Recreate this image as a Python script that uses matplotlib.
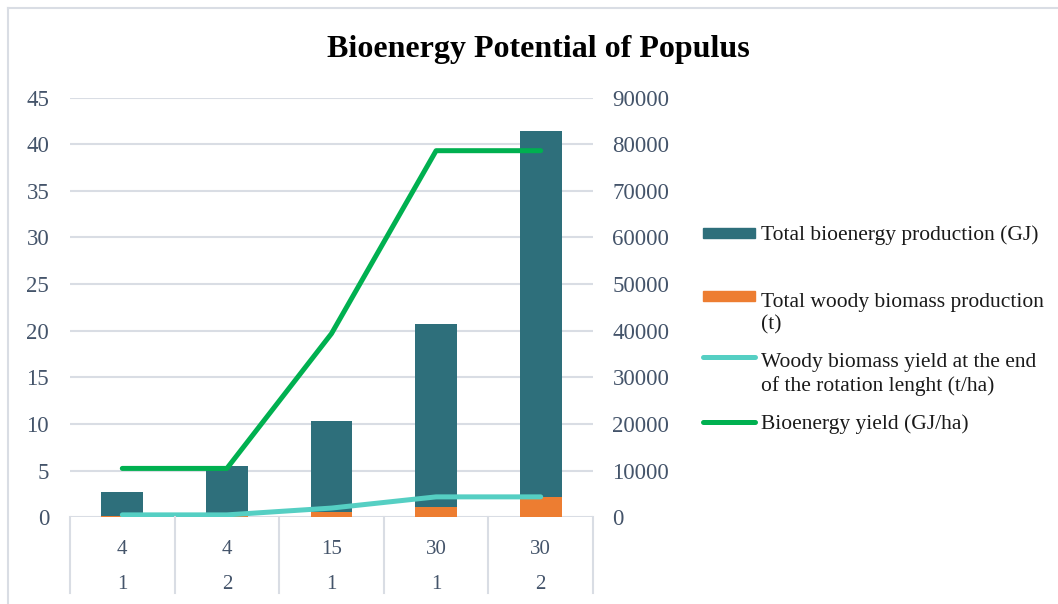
import matplotlib
matplotlib.use("Agg")
import matplotlib.pyplot as plt
from matplotlib.lines import Line2D
from matplotlib.patches import Rectangle
import matplotlib.transforms as mtransforms
import numpy as np

# ---- data ----
rotation_length = ["4", "4", "15", "30", "30"]
rotation_count = ["1", "2", "1", "1", "2"]
bioenergy_production_gj = [5200, 10400, 19500, 39200, 78400]   # right axis (stack top part)
woody_biomass_production_t = [290, 590, 1100, 2170, 4380]     # right axis (stack bottom)
woody_biomass_yield = [0.27, 0.27, 1.0, 2.2, 2.2]              # left axis
bioenergy_yield = [5.25, 5.25, 19.7, 39.3, 39.3]                # left axis
left_ticks = list(range(0, 46, 5))
right_ticks = list(range(0, 90001, 10000))

labels = ["Total bioenergy production (GJ)",
          "Total woody biomass production\n(t)",
          "Woody biomass yield at the end\nof the rotation lenght (t/ha)",
          "Bioenergy yield (GJ/ha)"]

c_teal = "#2e6f7b"
c_orange = "#ed7d31"
c_cyan = "#55cfc3"
c_green = "#00b050"
c_grid = "#d9dde4"
c_tick = "#44546a"

plt.rcParams['font.family'] = ['Liberation Serif', 'DejaVu Serif']

W, H = 1058, 604
fig = plt.figure(figsize=(W / 100, H / 100), dpi=100)

def fx(px):
    return px / W

def fy(py):
    return 1 - py / H

ax = fig.add_axes([fx(70), fy(517.4), fx(593 - 70), (517.4 - 97.5) / H])
ax2 = ax.twinx()
ax.set_zorder(2)
ax2.set_zorder(1)
ax.patch.set_visible(False)

x = np.arange(len(rotation_length))
bw = 0.4
ax2.bar(x, woody_biomass_production_t, width=bw, color=c_orange, zorder=3)
ax2.bar(x, bioenergy_production_gj, width=bw, bottom=woody_biomass_production_t,
        color=c_teal, zorder=3)

ax.plot(x, woody_biomass_yield, color=c_cyan, lw=3.6,
        solid_capstyle='round', solid_joinstyle='round')
ax.plot(x, bioenergy_yield, color=c_green, lw=3.6,
        solid_capstyle='round', solid_joinstyle='round')

ax.set_xlim(-0.5, len(x) - 0.5)
ax.set_ylim(0, 45)
ax2.set_ylim(0, 90000)
ax.set_yticks(left_ticks)
ax2.set_yticks(right_ticks)
ax.set_xticks([])
ax2.yaxis.grid(True, color=c_grid, lw=1.5, zorder=0)
ax2.set_axisbelow(True)

for a in (ax, ax2):
    for s in a.spines.values():
        s.set_visible(False)
ax.tick_params(axis='y', length=0, pad=15, labelsize=16.5, labelcolor=c_tick)
ax2.tick_params(axis='y', length=0, pad=14, labelsize=16.5, labelcolor=c_tick)

# multi-level category axis
trans = mtransforms.blended_transform_factory(ax.transData, ax.transAxes)
for i, (a, b) in enumerate(zip(rotation_length, rotation_count)):
    ax.text(i, -0.076, a, transform=trans, ha='center', va='center',
            fontsize=15, color=c_tick, clip_on=False)
    ax.text(i, -0.160, b, transform=trans, ha='center', va='center',
            fontsize=15, color=c_tick, clip_on=False)
for xd in np.arange(-0.5, len(x), 1.0):
    ax.add_line(Line2D([xd, xd], [0, -0.18], transform=trans, color=c_grid,
                       lw=1.5, clip_on=False))

# title
fig.text(fx(538), fy(57), "Bioenergy Potential of Populus", ha='center',
         va='baseline', fontsize=23, fontweight='bold', color='black')

# legend (manual, Excel-style)
first_line_y = [233, 296, 357, 422]
handle_x0, handle_x1 = 703, 755
text_x = 761
line_px = 26.7
kinds = [('bar', c_teal), ('bar', c_orange), ('line', c_cyan), ('line', c_green)]
for (kind, col), lab, yy in zip(kinds, labels, first_line_y):
    if kind == 'bar':
        fig.add_artist(Rectangle((fx(handle_x0), fy(yy + 5)), fx(handle_x1 - handle_x0),
                                 10 / H, color=col, transform=fig.transFigure))
    else:
        fig.add_artist(Line2D([fx(handle_x0), fx(handle_x1)], [fy(yy), fy(yy)],
                              color=col, lw=3.6, solid_capstyle='round',
                              transform=fig.transFigure))
    nlines = lab.count("\n") + 1
    fig.text(fx(text_x), fy(yy + 7 + line_px * (nlines - 1)), lab, ha='left',
             va='baseline', fontsize=15.5, color='#1a1a1a', linespacing=1.24)

# figure border
fig.add_artist(Line2D([fx(8), 1], [fy(8), fy(8)], color=c_grid, lw=1.5,
                      transform=fig.transFigure))
fig.add_artist(Line2D([fx(8), fx(8)], [fy(8), 0], color=c_grid, lw=1.5,
                      transform=fig.transFigure))

fig.savefig("out.png", dpi=100)
